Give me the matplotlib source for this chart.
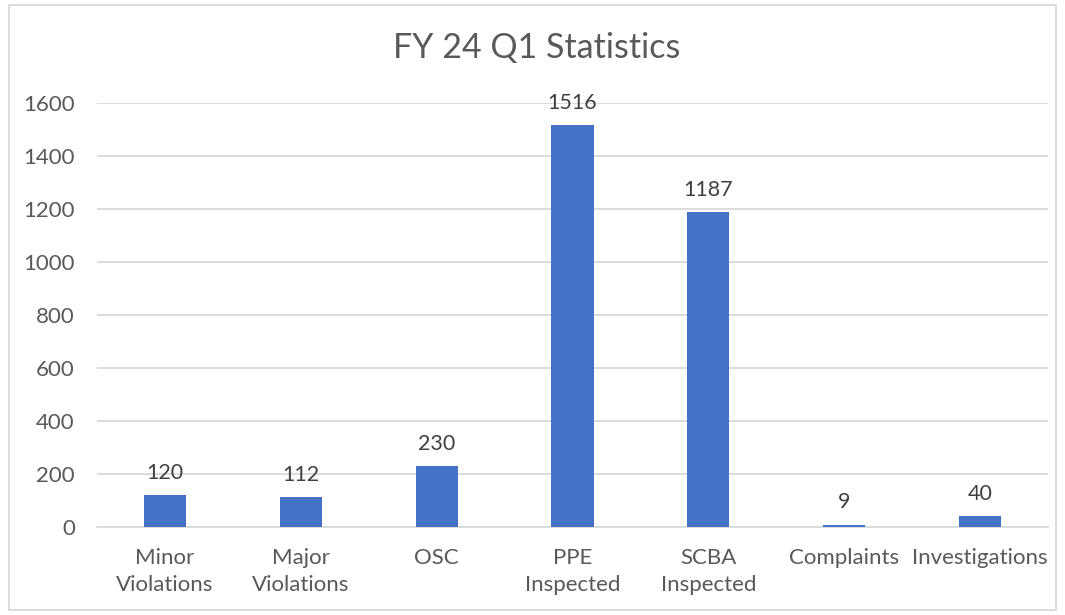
import matplotlib.pyplot as plt
from matplotlib.patches import Rectangle

# --- Data ---
categories = ["Minor\nViolations", "Major\nViolations", "OSC", "PPE\nInspected",
              "SCBA\nInspected", "Complaints", "Investigations"]
values = [120, 112, 230, 1516, 1187, 9, 40]
y_ticks = [0, 200, 400, 600, 800, 1000, 1200, 1400, 1600]

bar_color = "#4472C4"
text_color = "#595959"
grid_color = "#D9D9D9"

plt.rcParams['font.family'] = ['Lato', 'DejaVu Sans']

fig = plt.figure(figsize=(10.65, 6.15), dpi=100)
ax = fig.add_axes([97 / 1065, 88 / 615, (1048 - 97) / 1065, 424 / 615])

x = range(len(categories))
bars = ax.bar(x, values, width=0.31, color=bar_color, zorder=3)

# value labels above each bar
for xi, v in zip(x, values):
    ax.annotate(str(v), (xi, v), xytext=(0, 9), textcoords="offset points",
                ha="center", va="bottom", fontsize=15.5, color="#404040")

ax.set_xlim(-0.5, len(categories) - 0.5)
ax.set_ylim(0, 1600)
ax.set_yticks(y_ticks)
ax.set_xticks(list(x))
ax.set_xticklabels(categories, linespacing=1.45)
ax.tick_params(axis="both", length=0, labelsize=16, labelcolor=text_color)
ax.tick_params(axis="y", pad=16)
ax.tick_params(axis="x", pad=15)
ax.yaxis.grid(True, color=grid_color, linewidth=1.3, zorder=0)
for s in ["top", "right", "left"]:
    ax.spines[s].set_visible(False)
ax.spines["bottom"].set_color(grid_color)
ax.spines["bottom"].set_linewidth(1.3)

fig.text(537 / 1065, 1 - 48 / 615, "FY 24 Q1 Statistics", ha="center", va="center",
         fontsize=24.5, color=text_color)

# outer chart border
fig.patches.append(Rectangle((9 / 1065, 5 / 615), 1 - 18 / 1065, 1 - 10 / 615,
                             transform=fig.transFigure, fill=False,
                             edgecolor="#D9D9D9", linewidth=1.3))

fig.savefig("out.png", dpi=100)
